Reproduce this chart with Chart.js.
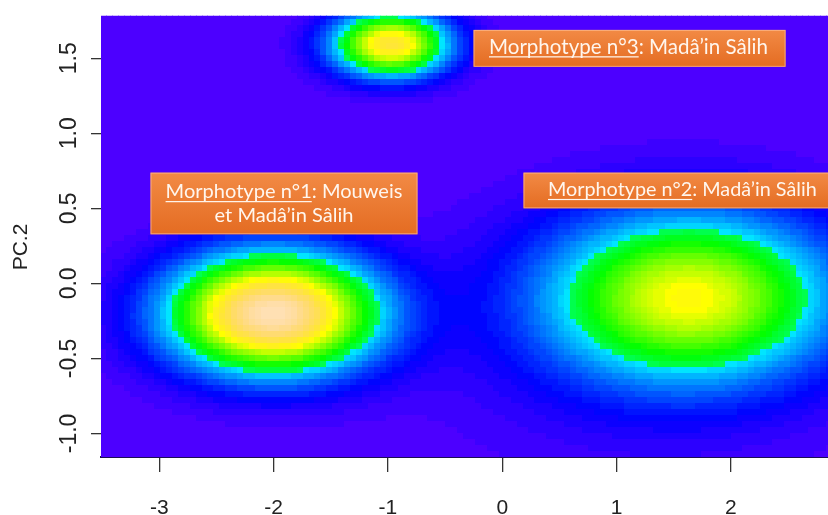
<!DOCTYPE html>
<html><head><meta charset="utf-8">
<script src="https://cdn.jsdelivr.net/npm/chart.js@4.4.1/dist/chart.umd.min.js"></script>
<style>html,body{margin:0;padding:0;background:#fff;overflow:hidden}</style>
</head><body>
<canvas id="c" width="828" height="515" style="width:828px;height:515px;display:block"></canvas>
<script>
// ---- data ----
const xTickValues = [-3, -2, -1, 0, 1, 2];
const yTickValues = [-1.0, -0.5, 0.0, 0.5, 1.0, 1.5];
const xRange = [-3.51, 2.85];
const yRange = [-1.157, 1.783];
const yAxisTitle = 'PC.2';
// density components (three morphotype clusters + the broad halo under n°2)
const componentX = [-2.0, 1.65, -0.97, 1.2];
const componentY = [-0.2, -0.09, 1.595, -0.35];
const componentSpreadX = [0.61, 0.83, 0.345, 1.25];
const componentSpreadY = [0.265, 0.37, 0.146, 0.58];
const componentPeak = [1.0, 0.64, 0.78, 0.06];
// grid step of the density image
const cellStepX = 0.052;
const cellStepY = 0.04;
// annotation texts
const labelHeads = ['Morphotype n°1', 'Morphotype n°2', 'Morphotype n°3'];
const labelTails = [[': Mouweis', 'et Madâ’in Sâlih'], [': Madâ’in Sâlih'], [': Madâ’in Sâlih']];

// ---- build density cells ----
const cells = [];
const nx = Math.round((xRange[1] - xRange[0]) / cellStepX) + 1;
const ny = Math.round((yRange[1] - yRange[0]) / cellStepY) + 1;
let zmax = 0;
for (let j = 0; j < ny; j++) {
  for (let i = 0; i < nx; i++) {
    const x = xRange[0] + cellStepX * (i + 0.5);
    const y = yRange[0] + cellStepY * (j + 0.5);
    let z = 0;
    for (let k = 0; k < componentX.length; k++) {
      const dx = (x - componentX[k]) / componentSpreadX[k];
      const dy = (y - componentY[k]) / componentSpreadY[k];
      z += componentPeak[k] * Math.exp(-0.5 * (dx * dx + dy * dy));
    }
    zmax = Math.max(zmax, z);
    cells.push({x, y, v: z});
  }
}
cells.forEach(c => c.v = c.v / zmax);

// ---- R topo.colors palette ----
function hsv(h, s, v) {
  const i = Math.floor(h * 6), f = h * 6 - i, p = v * (1 - s), q = v * (1 - f * s), t = v * (1 - (1 - f) * s);
  let r, g, b;
  switch (((i % 6) + 6) % 6) {
    case 0: r = v; g = t; b = p; break;
    case 1: r = q; g = v; b = p; break;
    case 2: r = p; g = v; b = t; break;
    case 3: r = p; g = q; b = v; break;
    case 4: r = t; g = p; b = v; break;
    default: r = v; g = p; b = q;
  }
  return 'rgb(' + Math.round(r * 255) + ',' + Math.round(g * 255) + ',' + Math.round(b * 255) + ')';
}
function topoPalette(n) {
  const j = Math.floor(n / 3), k = Math.floor(n / 3), i = n - j - k, out = [];
  for (let a = 0; a < i; a++) out.push(hsv(43 / 60 + (31 / 60 - 43 / 60) * (a / (i - 1)), 1, 1));
  for (let a = 0; a < j; a++) out.push(hsv(23 / 60 + (11 / 60 - 23 / 60) * (a / (j - 1)), 1, 1));
  for (let a = 0; a < k; a++) { const t = a / (k - 1); out.push(hsv(10 / 60 + (6 / 60 - 10 / 60) * t, 1 - 0.7 * t, 1)); }
  return out;
}
const palette = topoPalette(60);
function colorFor(v) { return palette[Math.min(palette.length - 1, Math.floor(v * palette.length))]; }

// ---- draws each density cell as a rectangle at the element position given by the chart's scales ----
const cellPlugin = {
  id: 'cells',
  beforeDatasetsDraw(chart) {
    const {ctx, chartArea: ca} = chart;
    const xs = chart.scales.x, ys = chart.scales.y;
    const meta = chart.getDatasetMeta(0);
    const hw = Math.abs(xs.getPixelForValue(cellStepX) - xs.getPixelForValue(0)) / 2;
    const hh = Math.abs(ys.getPixelForValue(cellStepY) - ys.getPixelForValue(0)) / 2;
    const data = chart.data.datasets[0].data;
    ctx.save();
    ctx.beginPath(); ctx.rect(ca.left, ca.top, ca.right - ca.left, ca.bottom - ca.top); ctx.clip();
    meta.data.forEach((el, idx) => {
      const L = Math.floor(el.x - hw), R = Math.ceil(el.x + hw);
      const T = Math.floor(el.y - hh), B = Math.ceil(el.y + hh);
      ctx.fillStyle = colorFor(data[idx].v);
      ctx.fillRect(L, T, R - L, B - T);
    });
    ctx.restore();
  }
};

// ---- annotation boxes (data coordinates) ----
const boxes = [
  {x0: -3.077, x1: -0.741, y0: 0.738, y1: 0.327, textWidth: 237, lines: [192, 216]},
  {x0: 0.186, x1: 3.2, y0: 0.738, y1: 0.50, textWidth: 269, lines: [190], left: 548},
  {x0: -0.251, x1: 2.479, y0: 1.689, y1: 1.443, textWidth: 279, lines: [47], left: 489}
];
const annotationPlugin = {
  id: 'boxes',
  afterDatasetsDraw(chart) {
    const {ctx, chartArea: ca} = chart;
    const xs = chart.scales.x, ys = chart.scales.y;
    ctx.save();
    ctx.beginPath(); ctx.rect(ca.left, ca.top, ca.right - ca.left, ca.bottom - ca.top); ctx.clip();
    boxes.forEach((b, idx) => {
      const L = xs.getPixelForValue(b.x0), R = xs.getPixelForValue(b.x1);
      const T = ys.getPixelForValue(b.y0), B = ys.getPixelForValue(b.y1);
      const g = ctx.createLinearGradient(0, T, 0, B);
      g.addColorStop(0, '#F28A45'); g.addColorStop(1, '#E46C22');
      ctx.fillStyle = g;
      ctx.fillRect(L, T, R - L, B - T);
      ctx.strokeStyle = 'rgba(255,190,150,0.7)'; ctx.lineWidth = 1;
      ctx.strokeRect(L + 0.5, T + 0.5, R - L - 1, B - T - 1);
      const head = labelHeads[idx];
      const tails = labelTails[idx];
      const full = head + tails[0];
      ctx.font = '20px Lato';
      const w20 = ctx.measureText(full).width;
      const fs = 20 * b.textWidth / w20;
      ctx.font = fs.toFixed(2) + 'px Lato';
      ctx.fillStyle = '#FFF6EE';
      ctx.textBaseline = 'middle';
      const wFull = ctx.measureText(full).width;
      const startX = b.left !== undefined ? b.left : (L + R) / 2 - wFull / 2;
      ctx.textAlign = 'left';
      ctx.fillText(full, startX, b.lines[0]);
      const wHead = ctx.measureText(head).width;
      ctx.fillRect(startX, b.lines[0] + fs * 0.45, wHead, Math.max(1, fs * 0.06));
      if (tails.length > 1) {
        ctx.textAlign = 'center';
        ctx.fillText(tails[1], startX + wFull / 2, b.lines[1]);
      }
    });
    ctx.restore();
  }
};

// ---- y axis title, placed like R's mtext (slightly below the axis middle) ----
const axisTitlePlugin = {
  id: 'axisTitle',
  afterDraw(chart) {
    const {ctx} = chart;
    ctx.save();
    ctx.translate(21, 247);
    ctx.rotate(-Math.PI / 2);
    ctx.font = '21px "Liberation Sans"';
    ctx.fillStyle = '#222';
    ctx.textAlign = 'center';
    ctx.textBaseline = 'middle';
    ctx.fillText(yAxisTitle, 0, 0);
    ctx.restore();
  }
};

new Chart(document.getElementById('c'), {
  type: 'scatter',
  data: {
    datasets: [{
      data: cells,
      pointRadius: 0,
      pointHoverRadius: 0,
      borderWidth: 0,
      backgroundColor: 'rgba(0,0,0,0)',
      clip: 0
    }]
  },
  options: {
    responsive: false,
    animation: false,
    events: [],
    layout: {padding: {top: 14, right: 0, left: 0, bottom: 0}},
    plugins: {legend: {display: false}, tooltip: {enabled: false}},
    scales: {
      x: {
        type: 'linear', min: xRange[0], max: xRange[1],
        afterBuildTicks: s => { s.ticks = xTickValues.map(v => ({value: v})); },
        afterFit: s => { s.height = 58; },
        ticks: {color: '#222', font: {family: 'Liberation Sans', size: 21}, padding: 24, callback: v => String(v), maxRotation: 0, autoSkip: false},
        grid: {drawOnChartArea: false, drawTicks: true, tickLength: 15, tickColor: '#333', lineWidth: 1.3},
        border: {display: true, color: '#1b0d55', width: 2}
      },
      y: {
        type: 'linear', min: yRange[0], max: yRange[1],
        afterBuildTicks: s => { s.ticks = yTickValues.map(v => ({value: v})); },
        afterFit: s => { s.width = 101; },
        ticks: {color: '#222', font: {family: 'Liberation Sans', size: 23}, padding: 2, minRotation: 90, maxRotation: 90, crossAlign: 'center', callback: v => v.toFixed(1), autoSkip: false},
        grid: {drawOnChartArea: false, drawTicks: true, tickLength: 10, tickColor: '#333', lineWidth: 1.3},
        border: {display: false},
        title: {display: false, text: yAxisTitle}
      }
    }
  },
  plugins: [cellPlugin, annotationPlugin, axisTitlePlugin]
});
</script>
</body></html>
